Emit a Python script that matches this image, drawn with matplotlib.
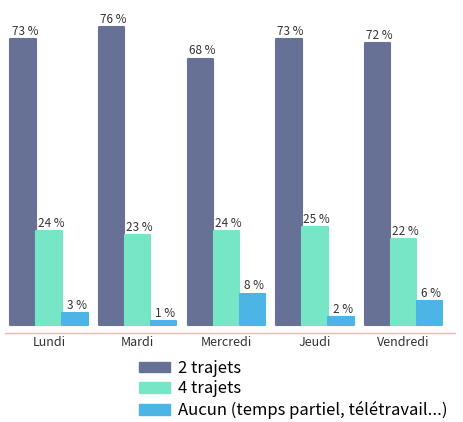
import matplotlib
matplotlib.use("Agg")
import matplotlib.pyplot as plt
import numpy as np
from matplotlib.patches import Patch

plt.rcParams['font.family'] = ['Noto Sans CJK JP', 'DejaVu Sans']

jours = ["Lundi", "Mardi", "Mercredi", "Jeudi", "Vendredi"]
deux_trajets = [73, 76, 68, 73, 72]
quatre_trajets = [24, 23, 24, 25, 22]
aucun = [3, 1, 8, 2, 6]
series_names = ["2 trajets", "4 trajets", "Aucun (temps partiel, télétravail...)"]
colors = ["#677196", "#76E6C6", "#4DB5E5"]

fig = plt.figure(figsize=(4.64, 4.22), dpi=100)
ax = fig.add_axes([5/464, (422-333)/422, 450/464, (333-10)/422])

x = np.arange(len(jours))
w = 0.294
for i, (vals, c) in enumerate(zip([deux_trajets, quatre_trajets, aucun], colors)):
    bars = ax.bar(x + (i-1)*w, vals, width=w*0.97, color=c, edgecolor=c,
                  linewidth=1.5, joinstyle='round')
    for b, v in zip(bars, vals):
        ax.text(b.get_x() + b.get_width()/2 + 0.02, v + 0.3, f"{v} %",
                ha='center', va='bottom', fontsize=8.5, color='#333333')

ax.set_xlim(-0.497, 4.58)
ax.set_ylim(-2.04, 80.4)
for s in ['top', 'right', 'left']:
    ax.spines[s].set_visible(False)
ax.spines['bottom'].set_color('#F0B4B4')
ax.spines['bottom'].set_linewidth(1.0)
ax.set_yticks([])
ax.set_xticks(x)
ax.set_xticklabels(jours, fontsize=9, color='#333333')
ax.tick_params(axis='x', length=0, pad=2)

handles = [Patch(facecolor=c, edgecolor=c, label=n) for c, n in zip(colors, series_names)]
fig.legend(handles=handles, loc='upper left', bbox_to_anchor=(132/464, 1 - 353/422),
           frameon=False, fontsize=12, handlelength=1.9, handleheight=0.6,
           handletextpad=0.45, labelspacing=0.22, borderaxespad=0)

fig.savefig("out.png", dpi=100, facecolor='white')
